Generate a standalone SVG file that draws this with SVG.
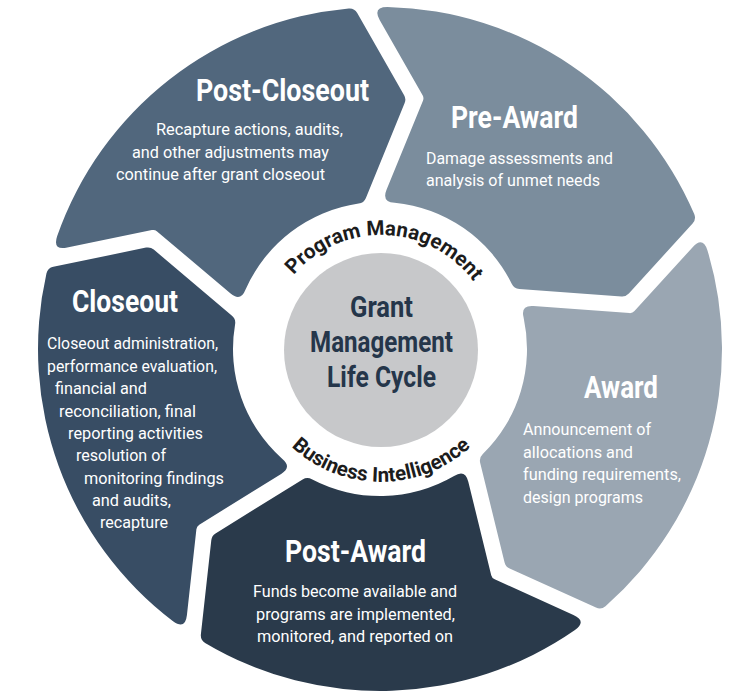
<svg xmlns="http://www.w3.org/2000/svg" xmlns:xlink="http://www.w3.org/1999/xlink" width="736" height="692" viewBox="0 0 736 692">
<style>
.title{font-family:Roboto,"Liberation Sans",sans-serif;font-weight:700;font-size:31px;fill:#ffffff}
.body{font-family:Roboto,"Liberation Sans",sans-serif;font-size:16.5px;fill:#ffffff}
.ctr{font-family:Roboto,"Liberation Sans",sans-serif;font-weight:700;font-size:30px;fill:#25364a}
.ring{font-family:Roboto,"Liberation Sans",sans-serif;font-weight:700;font-size:20.5px;fill:#1c1c1c}
</style>
<defs>
<path id="seg" d="M15.86,-328.42 Q9.03,-341.88 24.11,-341.15 A342,342 0 0 1 320.45,-119.48 Q322.39,-114.12 318.35,-110.10 L251.25,-43.25 Q248.13,-40.14 243.76,-40.68 L142.09,-53.21 Q136.78,-53.86 134.73,-58.80 A147,147 0 0 0 21.84,-145.37 Q8.71,-146.74 14.30,-158.70 L55.04,-245.94 Q56.31,-248.66 54.95,-251.34 Z"/>
<path id="arcTop" d="M274.4,306.9 A115,115 0 0 1 490.4,314.5"/>
<path id="arcBot" d="M257.0,395.1 A132,132 0 0 0 505.0,395.1"/>
</defs>
<rect width="736" height="692" fill="#ffffff"/>
<g id="connectors"/>
<g id="pre-award">
<use href="#seg" transform="translate(380,349) rotate(-2.8)" fill="#7b8d9d"/>
<text class="title" x="451" y="128" textLength="127" lengthAdjust="spacingAndGlyphs">Pre-Award</text>
<text class="body" x="426" y="164" textLength="187" lengthAdjust="spacingAndGlyphs">Damage assessments and</text>
<text class="body" x="426" y="185.5" textLength="174" lengthAdjust="spacingAndGlyphs">analysis of unmet needs</text>
</g>
<g id="award">
<use href="#seg" transform="translate(380,349) rotate(69.2)" fill="#9aa6b2"/>
<text class="title" x="584" y="398" textLength="74" lengthAdjust="spacingAndGlyphs">Award</text>
<text class="body" x="523" y="435" textLength="128" lengthAdjust="spacingAndGlyphs">Announcement of</text>
<text class="body" x="523" y="457.5" textLength="110" lengthAdjust="spacingAndGlyphs">allocations and</text>
<text class="body" x="523" y="480" textLength="158" lengthAdjust="spacingAndGlyphs">funding requirements,</text>
<text class="body" x="523" y="502.5" textLength="120" lengthAdjust="spacingAndGlyphs">design programs</text>
</g>
<g id="post-award">
<use href="#seg" transform="translate(380,349) rotate(141.2)" fill="#2a3a4b"/>
<text class="title" x="285" y="562" textLength="141" lengthAdjust="spacingAndGlyphs">Post-Award</text>
<text class="body" x="253" y="597" textLength="204" lengthAdjust="spacingAndGlyphs">Funds become available and</text>
<text class="body" x="256" y="619.5" textLength="199" lengthAdjust="spacingAndGlyphs">programs are implemented,</text>
<text class="body" x="257" y="642" textLength="196" lengthAdjust="spacingAndGlyphs">monitored, and reported on</text>
</g>
<g id="closeout">
<use href="#seg" transform="translate(380,349) rotate(213.2)" fill="#384d64"/>
<text class="title" x="72" y="312" textLength="106" lengthAdjust="spacingAndGlyphs">Closeout</text>
<text class="body" x="47" y="349" textLength="171" lengthAdjust="spacingAndGlyphs">Closeout administration,</text>
<text class="body" x="47" y="371.5" textLength="170" lengthAdjust="spacingAndGlyphs">performance evaluation,</text>
<text class="body" x="55" y="394" textLength="92" lengthAdjust="spacingAndGlyphs">financial and</text>
<text class="body" x="59" y="416.5" textLength="137" lengthAdjust="spacingAndGlyphs">reconciliation, final</text>
<text class="body" x="68" y="439" textLength="135" lengthAdjust="spacingAndGlyphs">reporting activities</text>
<text class="body" x="76" y="461" textLength="90" lengthAdjust="spacingAndGlyphs">resolution of</text>
<text class="body" x="84" y="483.5" textLength="140" lengthAdjust="spacingAndGlyphs">monitoring findings</text>
<text class="body" x="92" y="506" textLength="79" lengthAdjust="spacingAndGlyphs">and audits,</text>
<text class="body" x="100" y="528" textLength="68" lengthAdjust="spacingAndGlyphs">recapture</text>
</g>
<g id="post-closeout">
<use href="#seg" transform="translate(380,349) rotate(285.2)" fill="#51677d"/>
<text class="title" x="196" y="101" textLength="173" lengthAdjust="spacingAndGlyphs">Post-Closeout</text>
<text class="body" x="156" y="135" textLength="187" lengthAdjust="spacingAndGlyphs">Recapture actions, audits,</text>
<text class="body" x="132" y="157.5" textLength="197" lengthAdjust="spacingAndGlyphs">and other adjustments may</text>
<text class="body" x="116" y="180" textLength="209" lengthAdjust="spacingAndGlyphs">continue after grant closeout</text>
</g>
<g id="center">
<circle cx="381" cy="350" r="97" fill="#c7c8ca"/>
<text class="ctr" x="350" y="317" textLength="63" lengthAdjust="spacingAndGlyphs">Grant</text>
<text class="ctr" x="310" y="352" textLength="143" lengthAdjust="spacingAndGlyphs">Management</text>
<text class="ctr" x="327" y="387" textLength="109" lengthAdjust="spacingAndGlyphs">Life Cycle</text>
</g>
<g id="program-management">
<text class="ring"><textPath href="#arcTop" startOffset="50%" text-anchor="middle">Program Management</textPath></text>
</g>
<g id="business-intelligence">
<text class="ring"><textPath href="#arcBot" startOffset="50%" text-anchor="middle">Business Intelligence</textPath></text>
</g>
</svg>
